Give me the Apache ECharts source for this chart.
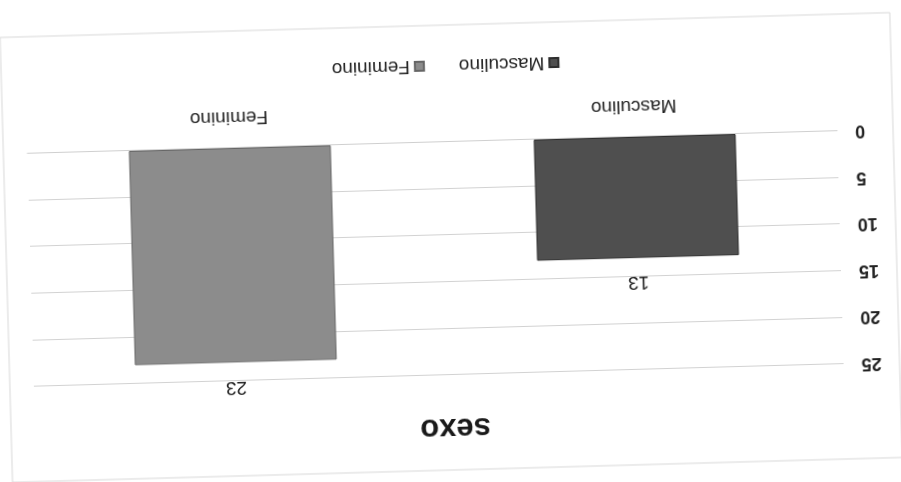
<!DOCTYPE html>
<html>
<head>
<meta charset="utf-8">
<script src="https://cdn.jsdelivr.net/npm/echarts@6/dist/echarts.min.js"></script>
<style>
html,body{margin:0;padding:0;background:#fff;overflow:hidden;}
#chart{width:901px;height:482px;transform:rotate(178.4deg);transform-origin:50% 50%;}
</style>
</head>
<body>
<div id="chart"></div>
<script>
// Data (original chart is shown upside-down in the reference scan)
var titleText = 'sexo';
var categories = ['Masculino', 'Feminino'];
var seriesNames = ['Masculino', 'Feminino'];
var masculinoValues = [13, null];
var femininoValues = [null, 23];
var yMin = 0, yMax = 25, yStep = 5;

var chart = echarts.init(document.getElementById('chart'), null, {renderer: 'canvas'});
var font = 'Liberation Sans, Arial, sans-serif';
chart.setOption({
  backgroundColor: '#ffffff',
  animation: false,
  title: {
    text: titleText,
    left: 'center',
    top: 34,
    textStyle: {fontFamily: font, fontSize: 31, fontWeight: 'bold', color: '#1a1a1a'}
  },
  legend: {
    data: seriesNames,
    bottom: 51,
    left: 'center',
    itemWidth: 9,
    itemHeight: 9,
    itemGap: 34,
    icon: 'rect',
    textStyle: {fontFamily: font, fontSize: 19, color: '#222'}
  },
  grid: {left: 61, right: 30, top: 107, bottom: 142},
  xAxis: {
    type: 'category',
    data: categories,
    axisLine: {show: true, lineStyle: {color: '#cfcfcf'}},
    axisTick: {show: false},
    axisLabel: {fontFamily: font, fontSize: 19, color: '#222', margin: 21}
  },
  yAxis: {
    type: 'value',
    min: yMin,
    max: yMax,
    interval: yStep,
    axisLine: {show: false},
    axisTick: {show: false},
    axisLabel: {fontFamily: font, fontSize: 18, fontWeight: 'bold', color: '#222', margin: 18},
    splitLine: {lineStyle: {color: '#d2d2d2', width: 1}}
  },
  series: [
    {
      name: seriesNames[0],
      type: 'bar',
      stack: 'total',
      barWidth: 202,
      data: masculinoValues,
      itemStyle: {color: '#4f4f4f', borderColor: '#2e2e2e', borderWidth: 1},
      label: {show: true, position: 'top', distance: 15, fontFamily: font, fontSize: 19, color: '#222'}
    },
    {
      name: seriesNames[1],
      type: 'bar',
      stack: 'total',
      barWidth: 202,
      data: femininoValues,
      itemStyle: {color: '#8c8c8c', borderColor: '#666', borderWidth: 1},
      label: {show: true, position: 'top', distance: 15, fontFamily: font, fontSize: 19, color: '#222'}
    }
  ],
  graphic: [{
    type: 'rect',
    shape: {x: 5, y: 12, width: 890, height: 445},
    style: {fill: 'none', stroke: '#d8d8d8', lineWidth: 1},
    silent: true
  }]
});
</script>
</body>
</html>
